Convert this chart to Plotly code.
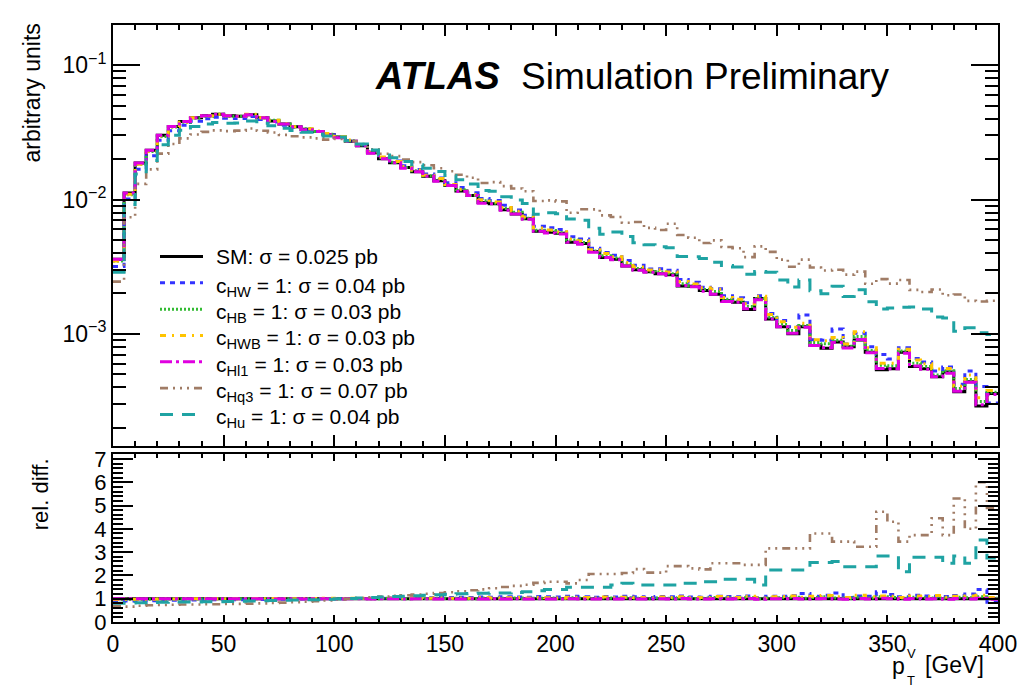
import plotly.graph_objects as go

# ---------------- data ----------------
bin_edges = list(range(0, 405, 5))  # 80 bins of 5 GeV, 0..400

sm_values = [
    0.0036, 0.0112, 0.0187, 0.0233, 0.0301, 0.0350, 0.0381, 0.0407, 0.0420, 0.0431,
    0.0420, 0.0418, 0.0428, 0.0407, 0.0385, 0.0365, 0.0348, 0.0334, 0.0321, 0.0304,
    0.0292, 0.0272, 0.0252, 0.0223, 0.0201, 0.0188, 0.0173, 0.0161, 0.0149, 0.0138,
    0.0127, 0.0116, 0.0107, 0.0095, 0.0093, 0.0084, 0.0078, 0.0072, 0.0058, 0.0057,
    0.0056, 0.0048, 0.0047, 0.0041, 0.0037, 0.0036, 0.0032, 0.0030, 0.0029, 0.0028,
    0.00275, 0.00227, 0.00226, 0.00210, 0.00197, 0.00176, 0.00172, 0.00152, 0.00183, 0.00129,
    0.00113, 0.00100, 0.00113, 0.00082, 0.00078, 0.00087, 0.00080, 0.00090, 0.00073, 0.00054,
    0.00055, 0.00073, 0.00057, 0.00055, 0.00048, 0.00052, 0.00037, 0.00044, 0.00029, 0.00036,
]

ratio_sm = [1.0] * 80

ratio_hw = [
    0.88, 0.90, 0.90, 0.91, 0.92, 0.93, 0.94, 0.94, 0.95, 0.95,
    0.96, 0.96, 0.97, 0.97, 0.98, 0.98, 0.99, 0.99, 1.00, 1.00,
    1.00, 1.01, 1.01, 1.02, 1.02, 1.03, 1.03, 1.04, 1.04, 1.05,
    1.05, 1.06, 1.05, 1.07, 1.06, 1.08, 1.07, 1.06, 1.09, 1.08,
    1.07, 1.10, 1.08, 1.06, 1.09, 1.07, 1.10, 1.08, 1.05, 1.09,
    1.08, 1.12, 1.07, 1.06, 1.10, 1.09, 1.08, 1.12, 1.05, 1.10,
    1.11, 1.13, 1.22, 1.10, 1.15, 1.25, 1.05, 1.12, 1.10, 1.30,
    1.18, 1.08, 1.15, 1.12, 1.10, 1.09, 1.14, 1.20, 1.40, 0.85,
]

ratio_hb = [
    0.97, 0.97, 0.98, 0.98, 0.98, 0.99, 0.99, 0.99, 0.99, 1.00,
    0.99, 1.00, 1.00, 1.00, 1.01, 1.00, 1.00, 1.01, 1.00, 1.01,
    1.00, 1.01, 1.01, 1.00, 1.02, 1.01, 1.00, 1.02, 1.01, 1.02,
    1.01, 1.02, 1.00, 1.03, 1.01, 1.02, 1.03, 1.01, 1.02, 1.03,
    1.01, 1.04, 1.02, 1.01, 1.03, 1.02, 1.04, 1.02, 1.00, 1.03,
    1.02, 1.04, 1.01, 1.02, 1.05, 1.03, 1.02, 1.05, 1.00, 1.03,
    1.04, 1.06, 1.02, 1.05, 1.08, 1.03, 1.01, 1.06, 1.03, 1.08,
    1.05, 1.02, 1.06, 1.04, 1.03, 1.02, 1.06, 1.04, 1.08, 1.02,
]

ratio_hwb = [
    0.97, 0.98, 0.98, 0.98, 0.99, 0.99, 0.99, 1.00, 1.00, 1.00,
    1.00, 1.00, 1.01, 1.00, 1.01, 1.01, 1.00, 1.01, 1.01, 1.02,
    1.01, 1.02, 1.02, 1.01, 1.03, 1.02, 1.02, 1.03, 1.02, 1.04,
    1.02, 1.03, 1.02, 1.05, 1.03, 1.04, 1.05, 1.03, 1.06, 1.04,
    1.03, 1.06, 1.05, 1.03, 1.07, 1.04, 1.06, 1.05, 1.03, 1.07,
    1.05, 1.08, 1.04, 1.05, 1.09, 1.06, 1.05, 1.10, 1.04, 1.08,
    1.09, 1.12, 1.06, 1.10, 1.14, 1.08, 1.05, 1.15, 1.08, 1.12,
    1.10, 1.05, 1.12, 1.09, 1.14, 1.06, 1.10, 1.12, 1.15, 1.05,
]

ratio_hl1 = [
    1.00, 1.00, 1.00, 1.00, 1.00, 1.00, 1.00, 1.00, 1.00, 1.00,
    1.00, 1.00, 1.00, 1.00, 0.99, 1.00, 1.00, 0.99, 1.00, 1.00,
    0.99, 1.00, 1.00, 0.99, 1.00, 1.00, 0.99, 1.00, 1.00, 0.99,
    1.00, 0.99, 1.00, 0.99, 1.00, 0.99, 1.00, 0.99, 1.00, 0.99,
    0.99, 1.00, 0.99, 0.99, 1.00, 0.99, 1.00, 0.99, 0.99, 1.00,
    0.99, 1.01, 0.99, 0.99, 1.00, 0.99, 1.00, 1.01, 0.98, 1.00,
    1.00, 1.01, 0.99, 1.00, 1.01, 0.99, 0.98, 1.01, 0.99, 1.02,
    1.00, 0.98, 1.01, 0.99, 1.00, 0.98, 1.01, 0.99, 1.02, 0.98,
]

ratio_hq3 = [
    0.68, 0.66, 0.70, 0.72, 0.73, 0.74, 0.75, 0.75, 0.76, 0.76,
    0.77, 0.78, 0.79, 0.80, 0.82, 0.83, 0.85, 0.87, 0.89, 0.92,
    0.97, 1.00, 1.03, 1.06, 1.09, 1.12, 1.15, 1.18, 1.21, 1.24,
    1.28, 1.32, 1.36, 1.40, 1.45, 1.50, 1.55, 1.60, 1.68, 1.73,
    1.73, 1.66, 1.80, 2.06, 2.06, 2.06, 2.10, 2.27, 2.12, 2.12,
    2.40, 2.40, 2.30, 2.26, 2.52, 2.52, 2.52, 2.45, 2.45, 3.16,
    3.16, 3.16, 3.16, 3.80, 3.80, 3.45, 3.45, 3.23, 3.23, 4.73,
    4.30, 3.45, 3.73, 3.73, 4.45, 3.73, 5.30, 4.00, 6.00, 4.90,
]

ratio_hu = [
    0.80, 0.82, 0.83, 0.84, 0.85, 0.86, 0.86, 0.86, 0.87, 0.87,
    0.88, 0.89, 0.90, 0.91, 0.92, 0.93, 0.94, 0.95, 0.96, 0.98,
    1.00, 1.01, 1.03, 1.05, 1.07, 1.09, 1.11, 1.13, 1.15, 1.17,
    1.19, 1.21, 1.22, 1.23, 1.24, 1.25, 1.27, 1.30, 1.34, 1.40,
    1.40, 1.49, 1.49, 1.49, 1.49, 1.59, 1.66, 1.59, 1.59, 1.59,
    1.59, 1.66, 1.66, 1.73, 1.73, 1.83, 1.83, 1.83, 1.59, 2.23,
    2.23, 2.23, 2.23, 2.55, 2.55, 2.60, 2.37, 2.37, 2.37, 2.83,
    2.83, 2.16, 2.78, 2.78, 2.78, 2.52, 2.83, 2.52, 3.52, 2.75,
]

series_names = [
    "SM: σ = 0.025 pb",
    "c<sub>HW</sub> = 1: σ = 0.04 pb",
    "c<sub>HB</sub> = 1: σ = 0.03 pb",
    "c<sub>HWB</sub> = 1: σ = 0.03 pb",
    "c<sub>Hl1</sub> = 1: σ = 0.03 pb",
    "c<sub>Hq3</sub> = 1: σ = 0.07 pb",
    "c<sub>Hu</sub> = 1: σ = 0.04 pb",
]
series_ratios = [ratio_sm, ratio_hw, ratio_hb, ratio_hwb, ratio_hl1, ratio_hq3, ratio_hu]

# ---------------- styles ----------------
colors = ["#000000", "#3333ff", "#33bb33", "#ffc400", "#e000e0", "#a07c66", "#1fa3a3"]
dashes = [
    "solid",
    "5px,5px",
    "2px,2px",
    "6px,6px,2px,6px",
    "12px,4px,3px,4px",
    "8px,5px,2px,5px,2px,5px,2px,5px",
    "13px,9px",
]
widths = [3, 3, 3, 3, 3, 2.6, 3]

FONT = "Liberation Sans, Arial, Helvetica, sans-serif"

# The page body has an 8px margin; figure sized so that the plot sits where it
# sits in the reference window (reference pixel coordinates used below).
W, H = 1021, 680
X0, X1, Y0, Y1 = 113, 998, 17, 622       # plot-area box in reference pixels
L, T = X0 - 8, Y0 - 8
PW, PH = X1 - X0, Y1 - Y0
R, B = W - L - PW, H - T - PH


def px(xpix):
    return (xpix - X0) / PW


def py(ypix):
    return (Y1 - ypix) / PH


fig = go.Figure()

step_x = bin_edges[:-1] + [bin_edges[-1]]
for name, ratio, col, dsh, wd in zip(series_names, series_ratios, colors, dashes, widths):
    upper = [s * r for s, r in zip(sm_values, ratio)]
    fig.add_trace(go.Scatter(
        x=step_x, y=upper + [upper[-1]], mode="lines", line_shape="hv",
        line=dict(color=col, dash=dsh, width=wd), name=name, showlegend=False,
        xaxis="x", yaxis="y"))
    fig.add_trace(go.Scatter(
        x=step_x, y=list(ratio) + [ratio[-1]], mode="lines", line_shape="hv",
        line=dict(color=col, dash=dsh, width=wd), name=name, showlegend=False,
        xaxis="x2", yaxis="y2"))

# ---------------- axes ----------------
log_minor = [m * 10 ** e for e in (-4, -3, -2, -1) for m in range(2, 10)]

common = dict(showline=True, linewidth=2, linecolor="black", mirror="allticks",
              showgrid=False, zeroline=False, ticks="inside", tickcolor="black",
              tickwidth=1.5)

fig.update_layout(
    width=W, height=H,
    margin=dict(l=L, r=R, t=T, b=B),
    paper_bgcolor="white", plot_bgcolor="white",
    font=dict(family=FONT, color="black"),
    xaxis=dict(domain=[0, 1], range=[0, 400], anchor="y", tick0=0, dtick=50,
               ticklen=11, showticklabels=False,
               minor=dict(dtick=10, ticklen=5, ticks="inside", tickcolor="black", tickwidth=1.5),
               **common),
    yaxis=dict(domain=[py(444), 1], type="log", range=[-3.838, -0.70], anchor="x",
               tickmode="array", tickvals=[1e-3, 1e-2, 1e-1],
               ticktext=["10<sup>−3</sup>", "10<sup>−2</sup>", "10<sup>−1</sup>"],
               ticklen=27, tickfont=dict(size=23),
               minor=dict(tickmode="array", tickvals=log_minor, ticklen=13, ticks="inside",
                          tickcolor="black", tickwidth=1.5),
               **common),
    xaxis2=dict(domain=[0, 1], range=[0, 400], anchor="y2", tick0=0, dtick=50,
                ticklen=7, tickfont=dict(size=23),
                minor=dict(dtick=10, ticklen=4, ticks="inside", tickcolor="black", tickwidth=1.5),
                **common),
    yaxis2=dict(domain=[0, py(452)], range=[0, 7.2], anchor="x2", tick0=0, dtick=1,
                ticklen=20, tickfont=dict(size=22),
                minor=dict(dtick=0.2, ticklen=10, ticks="inside", tickcolor="black", tickwidth=1.5),
                **common),
)

annotations = []
# axis titles
annotations.append(dict(text="arbitrary units", x=px(32), y=py(14), xref="paper", yref="paper",
                        xanchor="center", yanchor="top", textangle=-90, showarrow=False,
                        font=dict(size=23)))
annotations.append(dict(text="rel. diff.", x=px(40), y=py(454), xref="paper", yref="paper",
                        xanchor="center", yanchor="top", textangle=-90, showarrow=False,
                        font=dict(size=22)))
annotations.append(dict(text="p", x=px(890), y=py(667), xref="paper", yref="paper",
                        xanchor="left", yanchor="middle", showarrow=False, font=dict(size=23)))
annotations.append(dict(text="V", x=px(905), y=py(654), xref="paper", yref="paper",
                        xanchor="left", yanchor="middle", showarrow=False, font=dict(size=13)))
annotations.append(dict(text="T", x=px(905), y=py(681), xref="paper", yref="paper",
                        xanchor="left", yanchor="middle", showarrow=False, font=dict(size=13)))
annotations.append(dict(text="[GeV]", x=px(923), y=py(666), xref="paper", yref="paper",
                        xanchor="left", yanchor="middle", showarrow=False, font=dict(size=23)))
# ATLAS label
annotations.append(dict(text="<b><i>ATLAS</i></b>", x=px(373), y=py(69), xref="paper", yref="paper",
                        xanchor="left", yanchor="middle", showarrow=False, font=dict(size=38)))
annotations.append(dict(text="Simulation Preliminary", x=px(519), y=py(69), xref="paper", yref="paper",
                        xanchor="left", yanchor="middle", showarrow=False, font=dict(size=37)))

# manual legend
shapes = []
row_y = [251.7, 278.3, 305, 331.7, 358.3, 385, 411.7]
for i, (name, col, dsh, wd) in enumerate(zip(series_names, colors, dashes, widths)):
    yy = row_y[i]
    shapes.append(dict(type="line", xref="paper", yref="paper", x0=px(160), x1=px(203),
                       y0=py(yy), y1=py(yy), line=dict(color=col, dash=dsh, width=wd)))
    off = 0 if i == 0 else 4
    annotations.append(dict(text=name, x=px(214), y=py(yy + off), xref="paper", yref="paper",
                            xanchor="left", yanchor="middle", showarrow=False,
                            font=dict(size=21)))

fig.update_layout(annotations=annotations, shapes=shapes)

fig.write_html("out.html")
